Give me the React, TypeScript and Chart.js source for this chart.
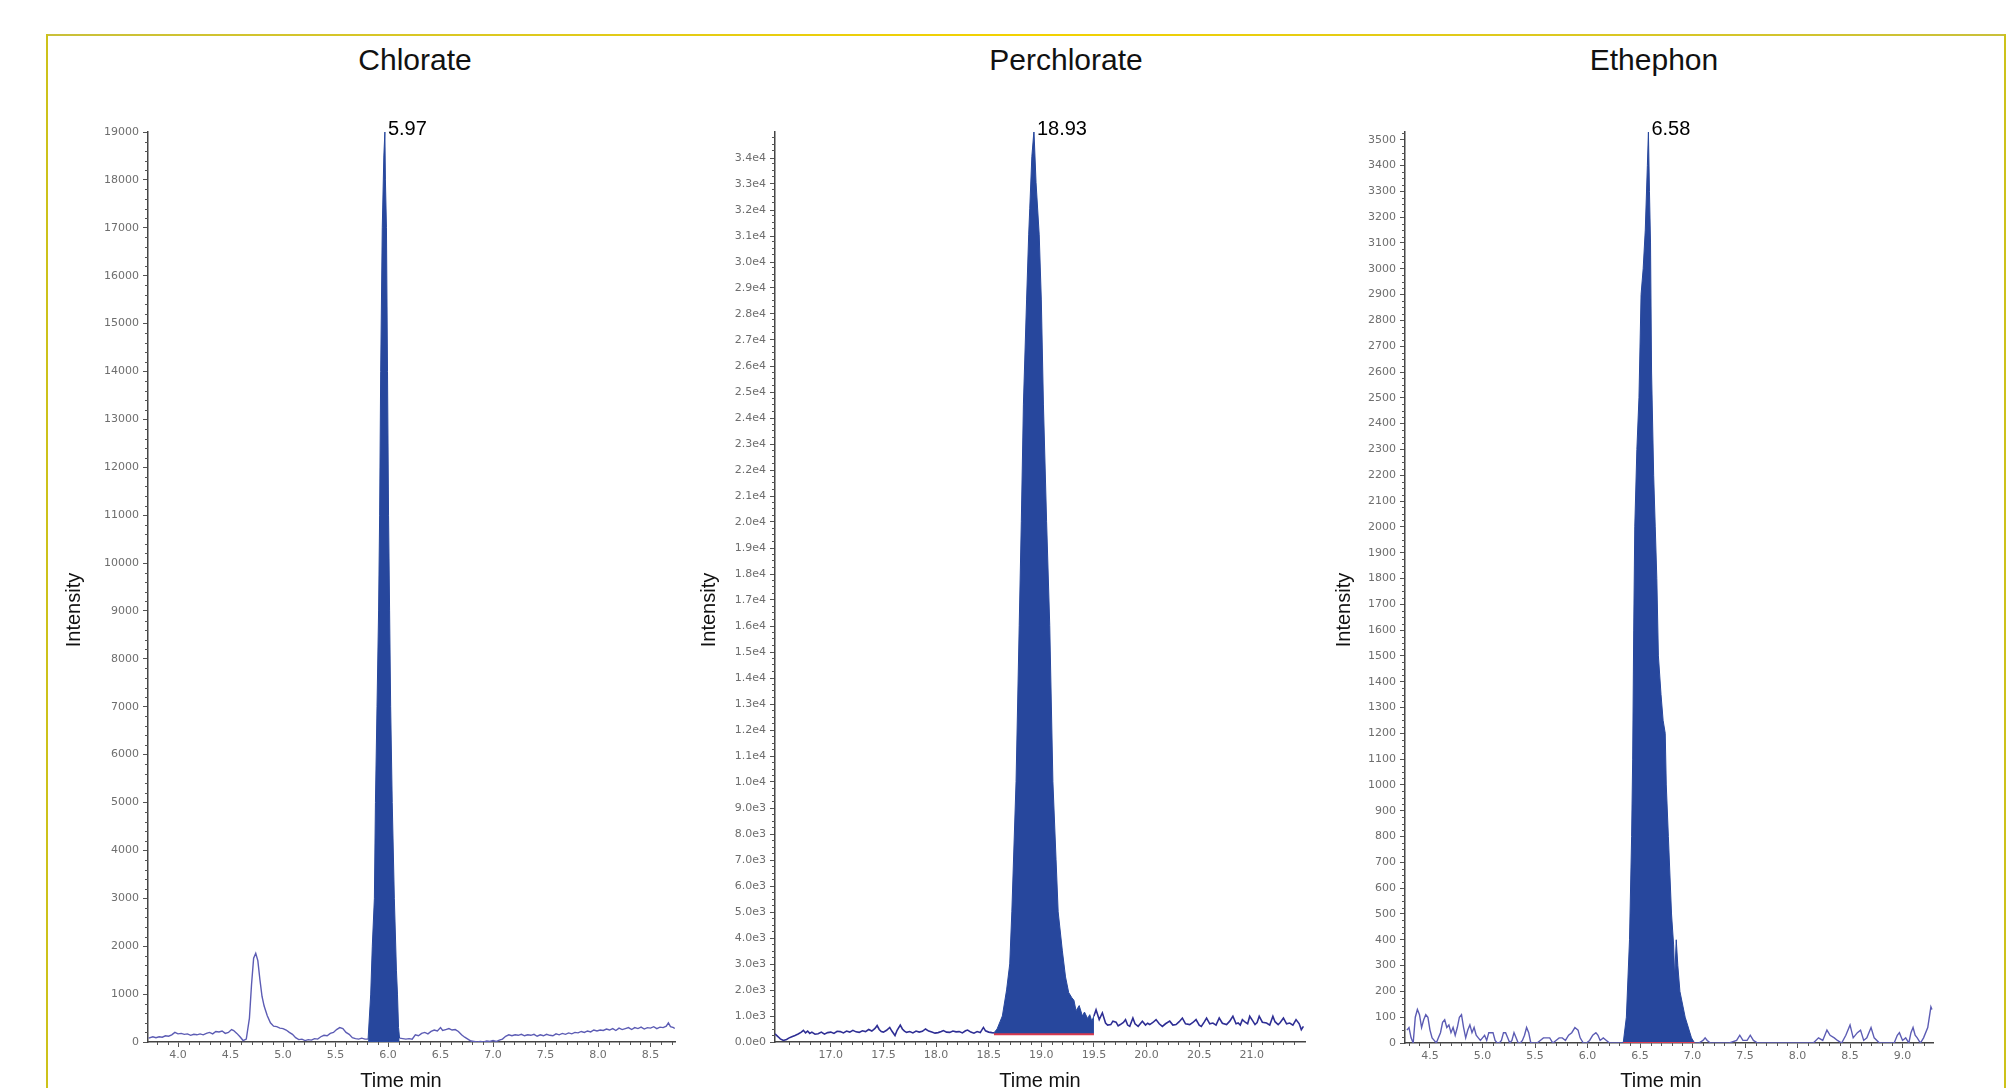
import { useEffect, useRef } from "react";
import { Chart, registerables } from "chart.js";

Chart.register(...registerables);

// ---------------- DATA ----------------
const panelTitles = ["Chlorate", "Perchlorate", "Ethephon"];
const peakLabels = ["5.97", "18.93", "6.58"];
const peakTimes = [5.97, 18.93, 6.58];
const peakHeights = [19000, 35000, 3530];

const chlorateXTicks = [4.0, 4.5, 5.0, 5.5, 6.0, 6.5, 7.0, 7.5, 8.0, 8.5];
const perchlorateXTicks = [17.0, 17.5, 18.0, 18.5, 19.0, 19.5, 20.0, 20.5, 21.0];
const ethephonXTicks = [4.5, 5.0, 5.5, 6.0, 6.5, 7.0, 7.5, 8.0, 8.5, 9.0];
// highest labelled intensity tick on each y axis
const yTickTops = [19000, 34000, 3500];

// [time min, intensity]
const chloratePre: [number, number][] = [
  [3.72, 80], [3.76, 110], [3.79, 90], [3.82, 110], [3.85, 100], [3.88, 130], [3.91, 120], [3.94, 150],
  [3.97, 200], [4.0, 170], [4.03, 180], [4.06, 160], [4.09, 170], [4.12, 140], [4.15, 160], [4.18, 150],
  [4.21, 170], [4.24, 150], [4.27, 180], [4.3, 200], [4.33, 170], [4.36, 220], [4.39, 210], [4.42, 230],
  [4.45, 180], [4.48, 200], [4.51, 260], [4.53, 240], [4.56, 180], [4.59, 110], [4.62, 30], [4.65, 60],
  [4.68, 500], [4.7, 1200], [4.72, 1750], [4.74, 1850], [4.76, 1700], [4.78, 1300], [4.8, 950], [4.82, 750],
  [4.85, 550], [4.88, 400], [4.91, 330], [4.94, 320], [4.97, 290], [5.0, 280], [5.03, 250], [5.06, 200],
  [5.09, 160], [5.12, 90], [5.15, 50], [5.18, 60], [5.21, 30], [5.24, 50], [5.27, 40], [5.3, 70],
  [5.33, 60], [5.36, 110], [5.39, 140], [5.42, 130], [5.45, 180], [5.48, 200], [5.51, 260], [5.54, 300],
  [5.57, 280], [5.6, 200], [5.63, 160], [5.66, 90], [5.69, 70], [5.72, 60], [5.75, 80], [5.78, 60], [5.81, 60],
];
const chloratePeak: [number, number][] = [
  [5.81, 60], [5.835, 1000], [5.85, 2000], [5.87, 3000], [5.88, 5000], [5.895, 7000], [5.91, 9000],
  [5.92, 11000], [5.93, 14000], [5.945, 17000], [5.96, 18500], [5.97, 19000], [5.975, 18000],
  [5.985, 17000], [5.995, 14000], [6.005, 11000], [6.015, 9000], [6.025, 7000], [6.04, 5000],
  [6.06, 3000], [6.08, 1500], [6.09, 1000], [6.1, 300], [6.11, 80],
];
const chloratePost: [number, number][] = [
  [6.11, 80], [6.14, 70], [6.17, 60], [6.2, 70], [6.23, 60], [6.26, 150], [6.29, 130], [6.32, 180], [6.35, 200],
  [6.38, 170], [6.41, 220], [6.44, 250], [6.47, 230], [6.5, 300], [6.52, 240], [6.55, 260], [6.58, 280],
  [6.61, 250], [6.64, 260], [6.67, 220], [6.7, 150], [6.73, 100], [6.76, 60], [6.79, 20], [6.82, 10],
  [6.85, 0], [6.88, 10], [6.91, 0], [6.94, 20], [6.97, 10], [7.0, 30], [7.03, 10], [7.06, 40],
  [7.09, 60], [7.12, 120], [7.15, 150], [7.18, 130], [7.21, 150], [7.24, 140], [7.27, 160], [7.3, 130],
  [7.33, 150], [7.36, 140], [7.39, 160], [7.42, 120], [7.45, 150], [7.48, 130], [7.51, 160], [7.54, 140],
  [7.57, 130], [7.6, 170], [7.63, 150], [7.66, 180], [7.69, 160], [7.72, 190], [7.75, 170], [7.78, 200],
  [7.81, 190], [7.84, 220], [7.87, 200], [7.9, 230], [7.93, 210], [7.96, 250], [7.99, 230], [8.02, 250],
  [8.05, 240], [8.08, 270], [8.11, 250], [8.14, 280], [8.17, 240], [8.2, 290], [8.23, 260], [8.26, 280],
  [8.29, 300], [8.32, 260], [8.35, 300], [8.38, 280], [8.41, 310], [8.44, 270], [8.47, 300], [8.5, 290],
  [8.53, 320], [8.56, 280], [8.59, 310], [8.62, 300], [8.65, 330], [8.67, 400], [8.69, 320], [8.72, 300], [8.73, 280],
];

const perchloratePre: [number, number][] = [
  [16.47, 310], [16.5, 200], [16.52, 120], [16.55, 60], [16.58, 100], [16.6, 150], [16.63, 200], [16.66, 250],
  [16.69, 310], [16.72, 380], [16.74, 450], [16.76, 350], [16.78, 420], [16.8, 330], [16.82, 380], [16.85, 300],
  [16.88, 320], [16.91, 380], [16.94, 300], [16.97, 360], [17.0, 380], [17.03, 330], [17.06, 410], [17.09, 400],
  [17.12, 350], [17.15, 420], [17.18, 380], [17.21, 450], [17.24, 390], [17.27, 370], [17.3, 430], [17.33, 400],
  [17.36, 480], [17.39, 420], [17.42, 520], [17.44, 630], [17.46, 480], [17.48, 400], [17.5, 380], [17.53, 450],
  [17.56, 560], [17.58, 420], [17.61, 250], [17.63, 450], [17.66, 650], [17.68, 500], [17.7, 420], [17.72, 370],
  [17.75, 400], [17.78, 350], [17.81, 420], [17.84, 380], [17.87, 410], [17.9, 500], [17.93, 420], [17.96, 380],
  [17.99, 340], [18.02, 360], [18.05, 400], [18.07, 440], [18.1, 380], [18.13, 370], [18.16, 420], [18.19, 390],
  [18.22, 400], [18.25, 350], [18.28, 430], [18.3, 460], [18.33, 380], [18.36, 340], [18.39, 400], [18.42, 360],
  [18.45, 560], [18.47, 430], [18.5, 380], [18.53, 360], [18.55, 350],
];
const perchloratePeak: [number, number][] = [
  [18.55, 350], [18.58, 500], [18.61, 800], [18.63, 1000], [18.67, 2000], [18.7, 3000], [18.72, 5000],
  [18.76, 10000], [18.79, 16000], [18.81, 20000], [18.83, 24500], [18.86, 28500], [18.88, 31000],
  [18.89, 32000], [18.91, 34000], [18.93, 35000], [18.95, 33000], [18.98, 31000], [19.0, 28500],
  [19.02, 24500], [19.05, 20000], [19.08, 16000], [19.11, 10000], [19.14, 7000], [19.16, 5000],
  [19.2, 3500], [19.23, 2500], [19.26, 1900], [19.29, 1700], [19.31, 1600], [19.33, 1200], [19.36, 1400],
  [19.39, 1000], [19.41, 1150], [19.44, 900], [19.46, 1050], [19.48, 800], [19.5, 1000],
];
const perchloratePost: [number, number][] = [
  [19.5, 1000], [19.52, 1240], [19.55, 860], [19.58, 1120], [19.61, 730], [19.63, 650], [19.66, 670], [19.68, 800],
  [19.71, 760], [19.73, 620], [19.75, 670], [19.78, 750], [19.8, 860], [19.82, 650], [19.84, 600], [19.87, 920],
  [19.89, 700], [19.92, 600], [19.94, 700], [19.96, 800], [19.99, 650], [20.01, 720], [20.03, 670], [20.06, 750],
  [20.09, 860], [20.12, 700], [20.15, 600], [20.18, 700], [20.22, 800], [20.25, 650], [20.28, 670], [20.31, 780],
  [20.34, 920], [20.37, 700], [20.41, 670], [20.44, 750], [20.47, 860], [20.5, 650], [20.52, 600], [20.55, 780],
  [20.57, 920], [20.6, 700], [20.63, 730], [20.66, 650], [20.69, 920], [20.72, 720], [20.76, 670], [20.79, 800],
  [20.82, 990], [20.85, 700], [20.87, 730], [20.89, 650], [20.91, 860], [20.94, 750], [20.96, 700], [20.98, 990],
  [21.01, 800], [21.03, 670], [21.05, 750], [21.07, 990], [21.1, 760], [21.14, 730], [21.17, 650], [21.2, 990],
  [21.22, 780], [21.25, 670], [21.27, 750], [21.3, 920], [21.33, 700], [21.36, 730], [21.39, 650], [21.42, 860],
  [21.45, 700], [21.47, 475], [21.49, 600],
];

const ethephonPre: [number, number][] = [
  [4.28, 50], [4.3, 60], [4.32, 20], [4.34, 0], [4.36, 100], [4.38, 130], [4.4, 110], [4.42, 60], [4.44, 90],
  [4.46, 110], [4.48, 100], [4.5, 50], [4.52, 20], [4.54, 10], [4.56, 0], [4.58, 20], [4.6, 40], [4.62, 80],
  [4.64, 90], [4.66, 60], [4.68, 70], [4.7, 40], [4.72, 60], [4.74, 30], [4.76, 60], [4.78, 100], [4.8, 110],
  [4.82, 60], [4.84, 20], [4.86, 50], [4.88, 70], [4.9, 40], [4.92, 60], [4.94, 30], [4.96, 20], [4.98, 10],
  [5.0, 20], [5.02, 30], [5.04, 10], [5.06, 40], [5.08, 40], [5.1, 40], [5.12, 10], [5.14, 0], [5.16, 0],
  [5.18, 10], [5.2, 40], [5.22, 40], [5.24, 20], [5.26, 0], [5.28, 10], [5.3, 40], [5.32, 20], [5.34, 0],
  [5.36, 0], [5.38, 10], [5.4, 30], [5.42, 60], [5.44, 40], [5.46, 0], [5.48, 0], [5.52, 0], [5.55, 10],
  [5.58, 20], [5.61, 20], [5.64, 20], [5.67, 0], [5.7, 10], [5.73, 20], [5.76, 20], [5.79, 10], [5.82, 30],
  [5.85, 40], [5.88, 60], [5.91, 50], [5.93, 20], [5.96, 0], [5.99, 0], [6.02, 10], [6.05, 30], [6.08, 40],
  [6.1, 30], [6.12, 10], [6.15, 20], [6.18, 10], [6.21, 0], [6.25, 0], [6.3, 0], [6.34, 0],
];
const ethephonPeak: [number, number][] = [
  [6.34, 0], [6.37, 100], [6.4, 400], [6.42, 800], [6.43, 1100], [6.44, 1600], [6.45, 2000], [6.47, 2300],
  [6.49, 2500], [6.51, 2900], [6.53, 3000], [6.55, 3150], [6.57, 3400], [6.58, 3530], [6.59, 3300],
  [6.6, 3100], [6.61, 2600], [6.63, 2200], [6.645, 2000], [6.66, 1800], [6.675, 1500], [6.7, 1350],
  [6.72, 1250], [6.74, 1200], [6.75, 1000], [6.77, 800], [6.8, 500], [6.82, 380], [6.83, 250],
  [6.845, 400], [6.86, 300], [6.88, 200], [6.93, 100], [6.99, 20], [7.02, 0],
];
const ethephonPost: [number, number][] = [
  [7.02, 0], [7.06, 0], [7.1, 10], [7.12, 20], [7.14, 10], [7.17, 0], [7.25, 0], [7.35, 0], [7.42, 10],
  [7.45, 30], [7.48, 10], [7.52, 10], [7.55, 30], [7.58, 10], [7.62, 0], [7.75, 0], [7.9, 0], [8.05, 0],
  [8.15, 0], [8.2, 20], [8.24, 10], [8.28, 50], [8.31, 30], [8.35, 20], [8.38, 10], [8.42, 0], [8.46, 30],
  [8.5, 70], [8.53, 20], [8.57, 40], [8.6, 50], [8.63, 10], [8.66, 20], [8.7, 60], [8.73, 20], [8.78, 0],
  [8.85, 0], [8.92, 0], [8.95, 30], [8.97, 40], [9.0, 10], [9.03, 20], [9.06, 0], [9.08, 40], [9.1, 60],
  [9.12, 30], [9.14, 20], [9.17, 0], [9.2, 20], [9.24, 60], [9.27, 140], [9.28, 130],
];

// ---------------- LAYOUT / STYLE ----------------
const FONT = '"Liberation Sans", Arial, Helvetica, sans-serif';
const TICK_FONT = '"DejaVu Sans", "Liberation Sans", sans-serif';
const FILL = "#27479d";

type PanelCfg = {
  title: string;
  area: { left: number; right: number; top: number; bottom: number };
  xMin: number; xMax: number; yMax: number; yTop: number;
  xTicks: number[]; yStep: number; yMinor: number;
  yFormat: (v: number) => string;
  xFormat: (v: number) => string;
  pre: [number, number][]; peak: [number, number][]; post: [number, number][];
  baseLevel: number; showBase: boolean; traceColor: string; traceWidth: number;
  peakTime: number; peakHeight: number; peakLabel: string;
  titleX: number; yTitleX: number; xTitleX: number;
};

const panels: PanelCfg[] = [
  {
    title: panelTitles[0], area: { left: 148, right: 675, top: 132, bottom: 1042 },
    xMin: 3.714, xMax: 8.733, yMax: 19000, yTop: yTickTops[0], xTicks: chlorateXTicks, yStep: 1000, yMinor: 200,
    yFormat: (v) => String(Math.round(v)), xFormat: (v) => v.toFixed(1),
    pre: chloratePre, peak: chloratePeak, post: chloratePost, baseLevel: 0, showBase: false,
    traceColor: "#5c5cb4", traceWidth: 1.4, peakTime: peakTimes[0], peakHeight: peakHeights[0], peakLabel: peakLabels[0],
    titleX: 415, yTitleX: 73, xTitleX: 401,
  },
  {
    title: panelTitles[1], area: { left: 775, right: 1305, top: 132, bottom: 1042 },
    xMin: 16.47, xMax: 21.505, yMax: 34950, yTop: yTickTops[1], xTicks: perchlorateXTicks, yStep: 1000, yMinor: 250,
    yFormat: (v) => v.toExponential(1).replace("+", ""), xFormat: (v) => v.toFixed(1),
    pre: perchloratePre, peak: perchloratePeak, post: perchloratePost, baseLevel: 300, showBase: true,
    traceColor: "#2e2e94", traceWidth: 1.6, peakTime: peakTimes[1], peakHeight: 34950, peakLabel: peakLabels[1],
    titleX: 1066, yTitleX: 708, xTitleX: 1040,
  },
  {
    title: panelTitles[2], area: { left: 1405, right: 1933, top: 132, bottom: 1043 },
    xMin: 4.262, xMax: 9.29, yMax: 3530, yTop: yTickTops[2], xTicks: ethephonXTicks, yStep: 100, yMinor: 25,
    yFormat: (v) => String(Math.round(v)), xFormat: (v) => v.toFixed(1),
    pre: ethephonPre, peak: ethephonPeak, post: ethephonPost, baseLevel: 0, showBase: true,
    traceColor: "#5c5cb4", traceWidth: 1.4, peakTime: peakTimes[2], peakHeight: peakHeights[2], peakLabel: peakLabels[2],
    titleX: 1654, yTitleX: 1343, xTitleX: 1661,
  },
];

const CANVAS_TOP = 100;
const CANVAS_H = 988;
const Y_AXIS_W = 90;
const RIGHT_PAD = 30;
const X_AXIS_H = 40;

const decorPlugin = {
  id: "decor",
  afterDraw(chart: any, _args: any, opts: any) {
    const { ctx, chartArea } = chart;
    const x = chart.scales.x;
    const y = chart.scales.y;
    ctx.save();
    ctx.strokeStyle = "#555";
    ctx.lineWidth = 1;
    ctx.beginPath();
    const ys = opts.yMinor;
    for (let k = Math.ceil(y.min / ys); k * ys <= y.max; k++) {
      const v = k * ys;
      const r = v / opts.yStep;
      if (Math.abs(r - Math.round(r)) < 1e-6 && v <= opts.yTop) continue;
      const py = Math.round(y.getPixelForValue(v)) + 0.5;
      ctx.moveTo(chartArea.left - 3, py);
      ctx.lineTo(chartArea.left, py);
    }
    const xs = 0.1;
    for (let k = Math.ceil(x.min / xs - 1e-9); k * xs <= x.max; k++) {
      const v = k * xs;
      const r = v / 0.5;
      if (Math.abs(r - Math.round(r)) < 1e-6) continue;
      const px = Math.round(x.getPixelForValue(v)) + 0.5;
      ctx.moveTo(px, chartArea.bottom);
      ctx.lineTo(px, chartArea.bottom + 3);
    }
    ctx.stroke();
    // peak label
    ctx.font = `20px ${FONT}`;
    const lx = x.getPixelForValue(opts.peakTime) + 3;
    const ly = y.getPixelForValue(opts.peakHeight) - 3;
    const w = ctx.measureText(opts.label).width;
    ctx.fillStyle = "#ffffff";
    ctx.fillRect(lx, ly - 11, w + 6, 24);
    ctx.fillStyle = "#000000";
    ctx.textBaseline = "middle";
    ctx.textAlign = "left";
    ctx.fillText(opts.label, lx, ly);
    ctx.restore();
  },
};

function toPts(a: [number, number][]) {
  return a.map(([t, v]) => ({ x: t, y: v }));
}

function Panel({ cfg }: { cfg: PanelCfg }) {
  const ref = useRef<HTMLCanvasElement | null>(null);
  const cLeft = cfg.area.left - Y_AXIS_W;
  const cWidth = cfg.area.right - cfg.area.left + Y_AXIS_W + RIGHT_PAD;
  const padTop = cfg.area.top - CANVAS_TOP;
  const padBottom = CANVAS_H - (cfg.area.bottom - CANVAS_TOP) - X_AXIS_H;

  useEffect(() => {
    if (!ref.current) return;
    const start = cfg.peak[0][0];
    const end = cfg.peak[cfg.peak.length - 1][0];
    const datasets: any[] = [];
    if (cfg.showBase) {
      datasets.push({
        label: "baseline",
        data: [{ x: start, y: cfg.baseLevel }, { x: end, y: cfg.baseLevel }],
        borderColor: "#d8394f", borderWidth: 2, pointRadius: 0, fill: false,
      });
    }
    datasets.push({
      label: "peak", data: toPts(cfg.peak), borderColor: FILL, backgroundColor: FILL,
      borderWidth: 1, pointRadius: 0, fill: { value: cfg.baseLevel },
    });
    datasets.push({
      label: "pre", data: toPts(cfg.pre), borderColor: cfg.traceColor, borderWidth: cfg.traceWidth, pointRadius: 0, fill: false,
    });
    datasets.push({
      label: "post", data: toPts(cfg.post), borderColor: cfg.traceColor, borderWidth: cfg.traceWidth, pointRadius: 0, fill: false,
    });

    const chart = new Chart(ref.current, {
      type: "line",
      data: { datasets },
      plugins: [decorPlugin as any],
      options: {
        responsive: false,
        animation: false,
        devicePixelRatio: 1,
        layout: { padding: { left: 0, right: RIGHT_PAD, top: padTop, bottom: padBottom } },
        elements: { line: { tension: 0 }, point: { radius: 0 } },
        plugins: {
          legend: { display: false },
          tooltip: { enabled: false },
          decor: {
            yMinor: cfg.yMinor, yStep: cfg.yStep, yTop: cfg.yTop, peakTime: cfg.peakTime,
            peakHeight: cfg.peakHeight, label: cfg.peakLabel,
          },
        } as any,
        scales: {
          x: {
            type: "linear", min: cfg.xMin, max: cfg.xMax,
            afterBuildTicks: (s: any) => { s.ticks = cfg.xTicks.map((v) => ({ value: v })); },
            afterFit: (s: any) => { s.height = X_AXIS_H; },
            grid: { display: true, drawOnChartArea: false, drawTicks: true, tickLength: 5, tickColor: "#555", color: "#555" },
            border: { display: true, color: "#444", width: 1.5 },
            ticks: {
              color: "#6e6e6e", font: { family: TICK_FONT, size: 11 }, padding: 2,
              maxRotation: 0, autoSkip: false, callback: (v: any) => cfg.xFormat(Number(v)),
            },
          },
          y: {
            type: "linear", min: 0, max: cfg.yMax,
            afterBuildTicks: (s: any) => { s.ticks = s.ticks.filter((t: any) => t.value <= cfg.yTop); },
            afterFit: (s: any) => { s.width = Y_AXIS_W; },
            grid: { display: true, drawOnChartArea: false, drawTicks: true, tickLength: 5, tickColor: "#555", color: "#555" },
            border: { display: true, color: "#444", width: 1.5 },
            ticks: {
              stepSize: cfg.yStep, includeBounds: false, autoSkip: false, padding: 4,
              color: "#6e6e6e", font: { family: TICK_FONT, size: 11 },
              callback: (v: any) => cfg.yFormat(Number(v)),
            },
          },
        },
      } as any,
    });
    return () => chart.destroy();
  }, [cfg]);

  return (
    <>
      <canvas
        ref={ref}
        width={cWidth}
        height={CANVAS_H}
        style={{ position: "absolute", left: cLeft, top: CANVAS_TOP, width: cWidth, height: CANVAS_H }}
      />
      <div style={{
        position: "absolute", left: cfg.titleX - 200, top: 45, width: 400, textAlign: "center",
        font: `30px ${FONT}`, lineHeight: "30px", color: "#111",
      }}>{cfg.title}</div>
      <div style={{
        position: "absolute", left: cfg.yTitleX - 100, top: 600, width: 200, height: 20, textAlign: "center",
        font: `20px ${FONT}`, lineHeight: "20px", color: "#111", transform: "rotate(-90deg)",
      }}>Intensity</div>
      <div style={{
        position: "absolute", left: cfg.xTitleX - 100, top: 1070, width: 200, textAlign: "center",
        font: `20px ${FONT}`, lineHeight: "20px", color: "#111",
      }}>Time min</div>
    </>
  );
}

export default function App() {
  return (
    <div style={{ position: "absolute", left: 0, top: 0, width: 2014, height: 1088, overflow: "hidden", background: "#fff" }}>
      <div style={{ position: "absolute", left: 46, top: 34, width: 1960, height: 2,
        background: "linear-gradient(90deg, #c9c03a 0%, #f3d200 50%, #c9c03a 100%)" }} />
      <div style={{ position: "absolute", left: 46, top: 34, width: 2, height: 1060, background: "#cdc21a" }} />
      <div style={{ position: "absolute", left: 2004, top: 34, width: 2, height: 1060, background: "#cdc21a" }} />
      {panels.map((p) => <Panel key={p.title} cfg={p} />)}
    </div>
  );
}
